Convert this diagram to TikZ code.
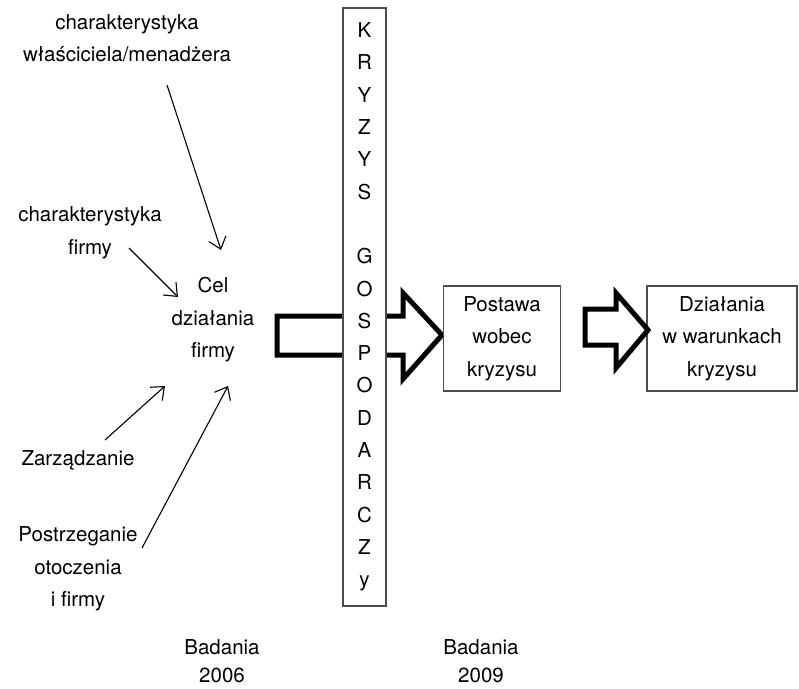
\documentclass[tikz,border=0pt]{standalone}
\usepackage{fontspec}
\setmainfont{TeX Gyre Heros}
\usetikzlibrary{arrows.meta}
\begin{document}
\begin{tikzpicture}[x=1pt,y=-1pt,
  lbl/.style={align=center,inner sep=0pt,font=\fontsize{20.5}{32.5}\selectfont},
  thin arrow/.style={line width=1.1pt,-{Straight Barb[length=11pt,width=18pt,line width=1.1pt]}},
  block/.style={line width=5pt,line join=miter,draw=black,fill=white},
  frame/.style={draw=black!70,line width=1.3pt,fill=white}]
\useasboundingbox (0,0) rectangle (799,688);
% block arrow 1 (behind crisis box)
\draw[block] (277,316) -- (403,316) -- (403,293) -- (442,335) -- (403,379) -- (403,355) -- (277,355) -- cycle;
% crisis box
\node[frame,minimum width=43pt,minimum height=598pt,inner sep=0pt,
  align=center,font=\fontsize{20.5}{32.3}\selectfont] (crisis) at (364.5,307)
  {K\\R\\Y\\Z\\Y\\S\\ \\G\\O\\S\\P\\O\\D\\A\\R\\C\\Z\\y};
% boxes
\node[frame,minimum width=117pt,minimum height=105pt,inner sep=0pt,lbl] (post) at (502,338.5) {Postawa\\wobec\\kryzysu};
\node[frame,minimum width=150pt,minimum height=105pt,inner sep=0pt,lbl] (dzial) at (722,338.5) {Działania\\w warunkach\\kryzysu};
% block arrow 2
\draw[block] (585,309) -- (616,309) -- (616,293) -- (648,330) -- (616,368) -- (616,345) -- (585,345) -- cycle;
% labels
\node[lbl] (wlasc) at (127,38) {charakterystyka\\właściciela/menadżera};
\node[lbl] (firma) at (90,233) {charakterystyka\\firmy};
\node[lbl] (cel) at (213,320) {Cel\\działania\\firmy};
\node[lbl] (zarz) at (78,460) {Zarządzanie};
\node[lbl] (postrz) at (78,569) {Postrzeganie\\otoczenia\\i firmy};
\node[lbl,font=\fontsize{20.5}{28}\selectfont] (b2006) at (222,661) {Badania\\2006};
\node[lbl,font=\fontsize{20.5}{28}\selectfont] (b2009) at (481,661) {Badania\\2009};
% connector end points
\coordinate (a1s) at (167,85);  \coordinate (a1e) at (221,250);
\coordinate (a2s) at (129,248); \coordinate (a2e) at (178,297);
\coordinate (a3s) at (105,440); \coordinate (a3e) at (165,386);
\coordinate (a4s) at (142,548); \coordinate (a4e) at (228,386);
\draw[thin arrow] (a1s) -- (a1e);
\draw[thin arrow] (a2s) -- (a2e);
\draw[thin arrow] (a3s) -- (a3e);
\draw[thin arrow] (a4s) -- (a4e);
\end{tikzpicture}
\end{document}
